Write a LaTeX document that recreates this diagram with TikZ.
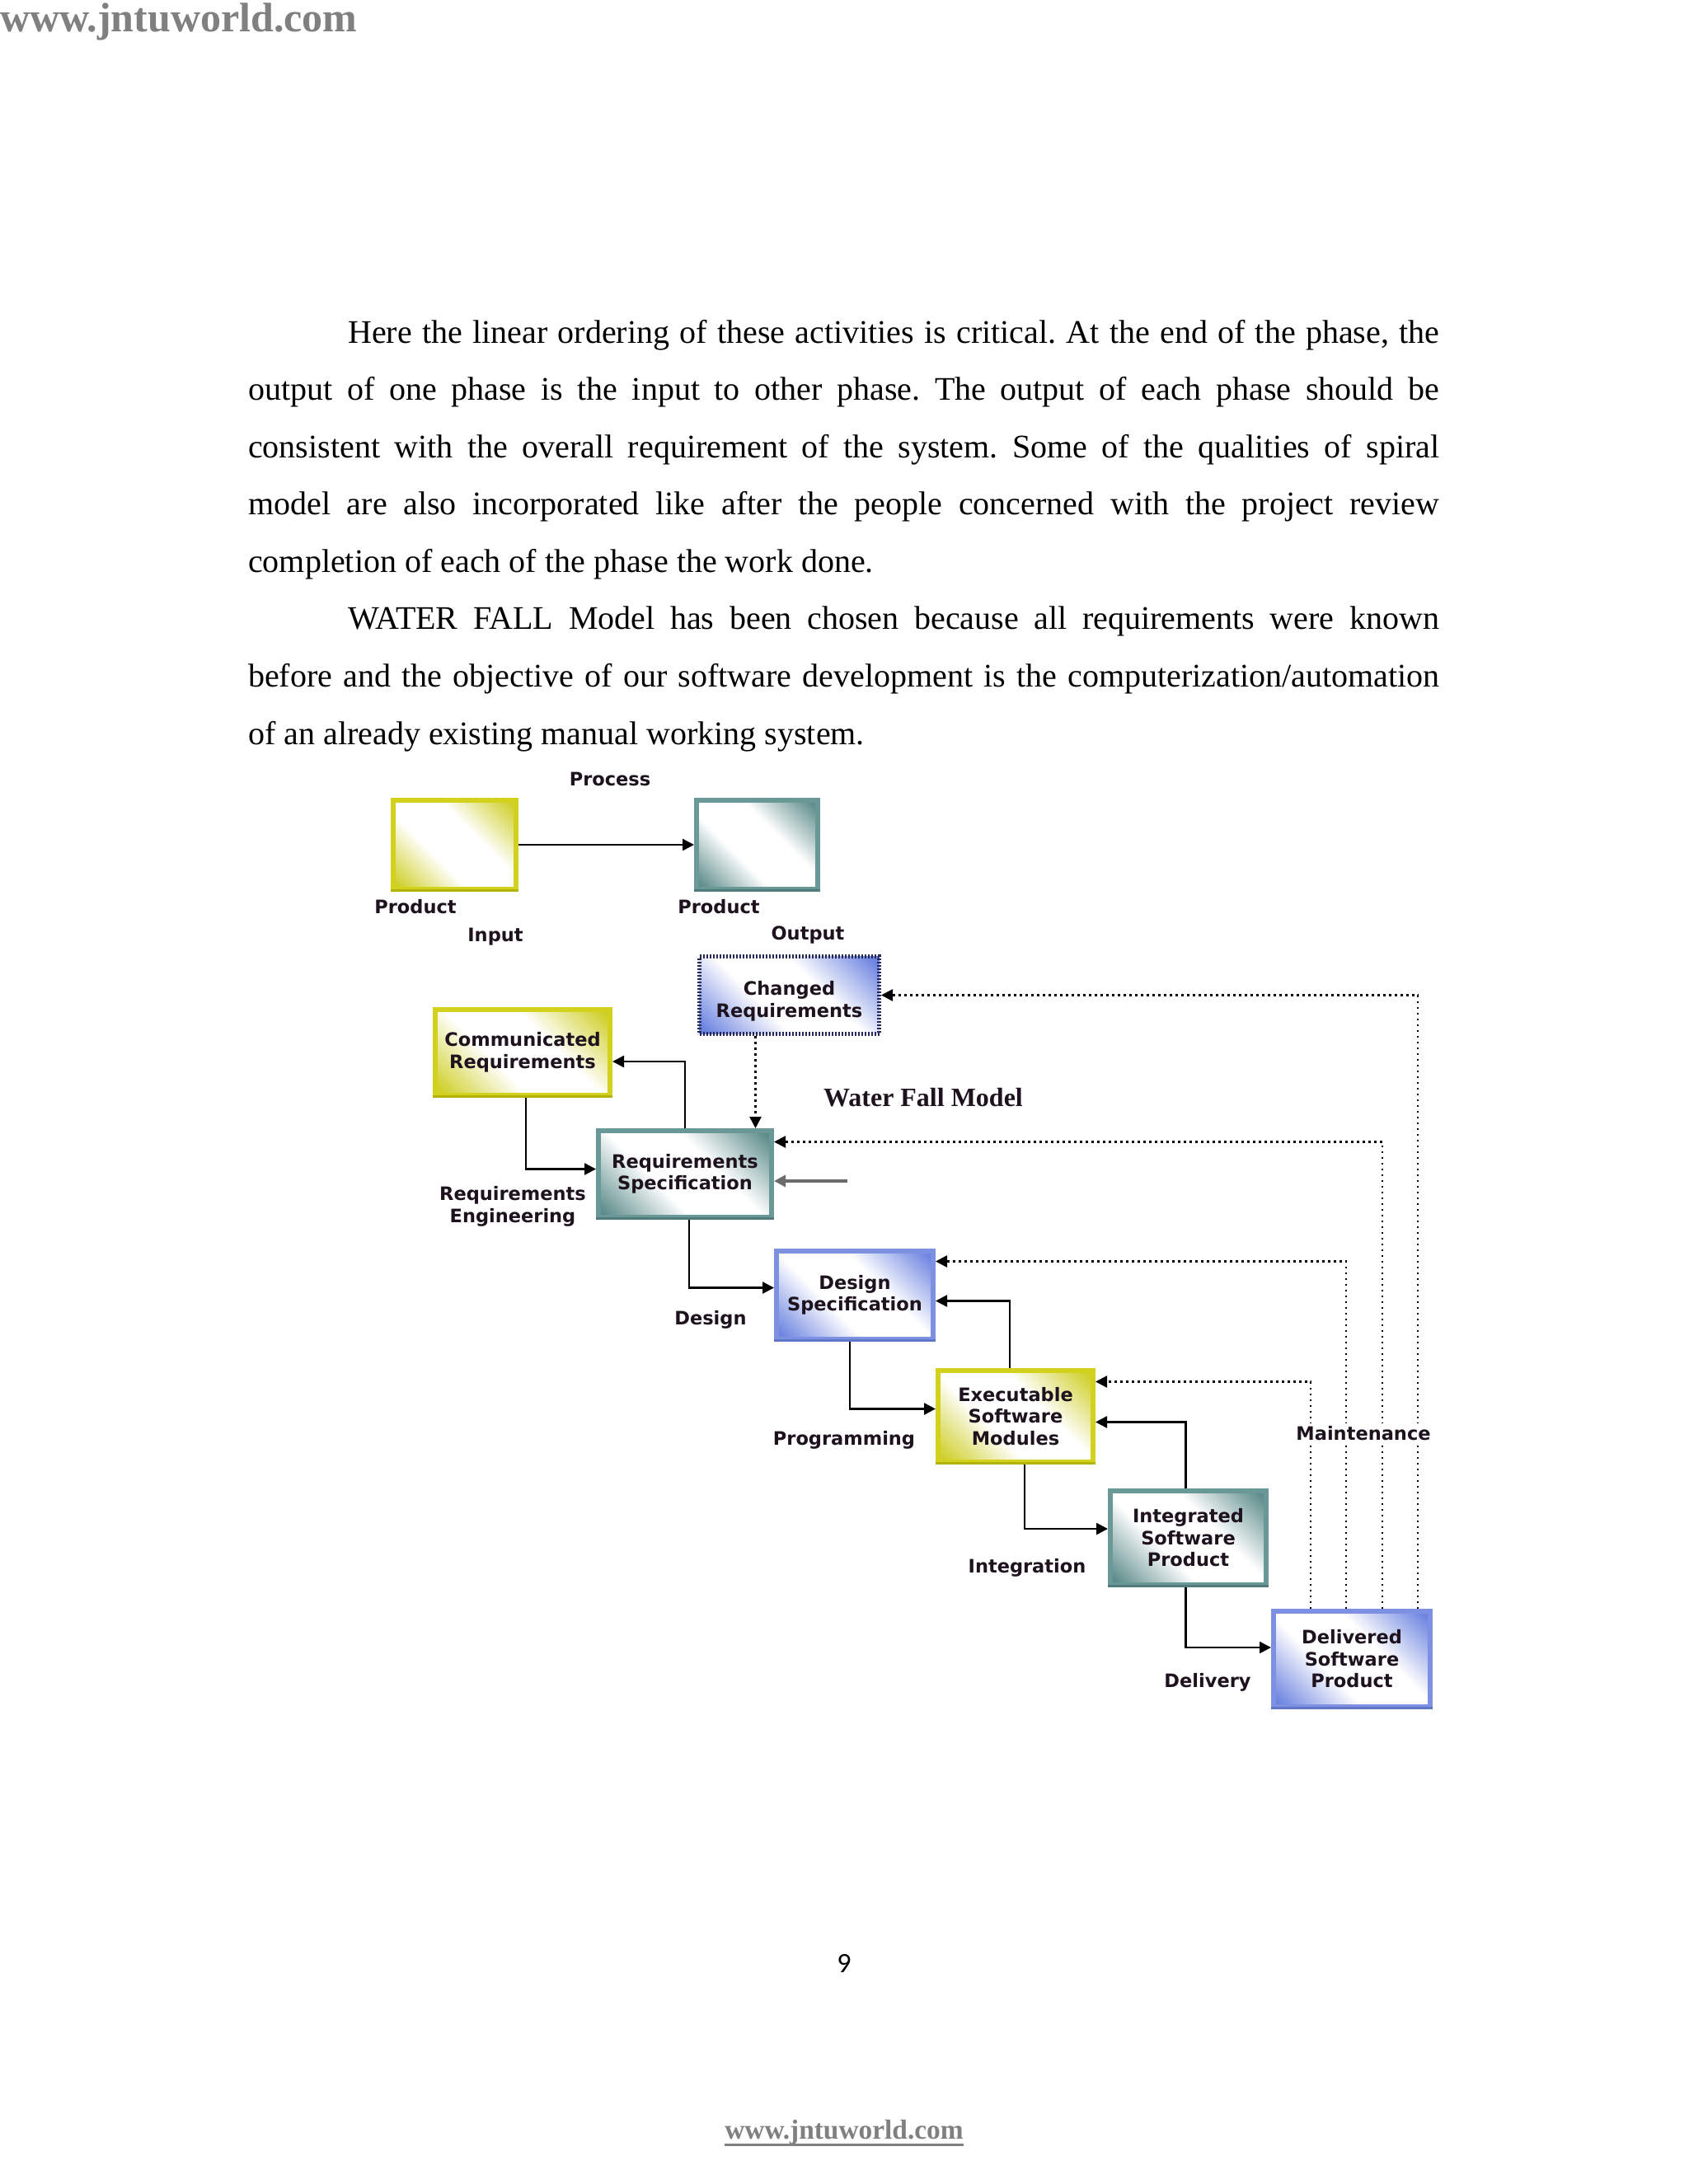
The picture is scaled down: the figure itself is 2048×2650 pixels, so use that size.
\documentclass[tikz,border=0pt]{standalone}
\usepackage{fontspec}
\setmainfont{Liberation Serif}
\newfontfamily\dvfont{DejaVu Sans}
\newfontfamily\clfont{Carlito}
\usetikzlibrary{arrows.meta}
\definecolor{ybord}{HTML}{D2D21E}
\definecolor{ydark}{HTML}{B2B208}
\definecolor{yfill}{HTML}{CFCF2A}
\definecolor{tbord}{HTML}{6A9896}
\definecolor{tdark}{HTML}{4F7C7A}
\definecolor{tfill}{HTML}{5C8C8A}
\definecolor{bbord}{HTML}{7D90E2}
\definecolor{bdark}{HTML}{6276C8}
\definecolor{bfill}{HTML}{6C84E0}
\definecolor{dotb}{HTML}{262A5A}
\definecolor{txt}{HTML}{1E121E}
\definecolor{wmark}{HTML}{808080}
\pgfdeclareverticalshading{yshade}{100bp}{color(0bp)=(yfill); color(17bp)=(yfill); color(40bp)=(white); color(60bp)=(white); color(83bp)=(yfill); color(100bp)=(yfill)}
\pgfdeclareverticalshading{tshade}{100bp}{color(0bp)=(tfill); color(17bp)=(tfill); color(40bp)=(white); color(60bp)=(white); color(83bp)=(tfill); color(100bp)=(tfill)}
\pgfdeclareverticalshading{bshade}{100bp}{color(0bp)=(bfill); color(17bp)=(bfill); color(40bp)=(white); color(60bp)=(white); color(83bp)=(bfill); color(100bp)=(bfill)}
\tikzset{
  box/.style={rectangle, line width=6pt, inner sep=0pt, align=center, text=txt,
    font=\dvfont\bfseries\fontsize{22.5}{26.5}\selectfont},
  ybox/.style={box, draw=ybord, shade, shading=yshade, shading angle=-45},
  tbox/.style={box, draw=tbord, shade, shading=tshade, shading angle=-45},
  bbox/.style={box, draw=bbord, shade, shading=bshade, shading angle=-45},
  cbox/.style={box, draw=dotb, line width=5pt, dash pattern=on 2pt off 2pt, shade, shading=bshade, shading angle=-45},
  lbl/.style={inner sep=0pt, anchor=base, text=txt, align=center,
    font=\dvfont\bfseries\fontsize{22.5}{26.5}\selectfont},
  body/.style={inner sep=0pt, anchor=base west, font=\frenchspacing\fontsize{40}{48}\selectfont},
  arr/.style={draw=black, line width=2.5pt, -{Triangle[length=14pt,width=14pt]}},
  dotarr/.style={draw=black, line width=2.6pt, dash pattern=on 2.5pt off 4.5pt, -{Triangle[length=14pt,width=14pt]}},
  grayarr/.style={draw=black!58, line width=4pt, -{Triangle[length=14pt,width=14pt]}},
  rim/.style={line width=3pt, line cap=butt},
}
\begin{document}
\begin{tikzpicture}[x=1pt,y=-1pt]
\fill[white] (0,0) rectangle (2048,2650);
\useasboundingbox (0,0) rectangle (2048,2650);

% watermark header
\node[inner sep=0pt, anchor=base west, text=wmark, font=\bfseries\fontsize{50}{56}\selectfont] (wtop) at (0,38) {www.jntuworld.com};

% body text
\node[body] (l1) at (422,416) {\makebox[1324pt][s]{Here the linear ordering of these activities is critical. At the end of the phase, the}};
\node[body] (l2) at (301,485.6) {\makebox[1445pt][s]{output of one phase is the input to other phase. The output of each phase should be}};
\node[body] (l3) at (301,555.1) {\makebox[1445pt][s]{consistent with the overall requirement of the system. Some of the qualities of spiral}};
\node[body] (l4) at (301,624.7) {\makebox[1445pt][s]{model are also incorporated like after the people concerned with the project review}};
\node[body] (l5) at (301,694.3) {completion of each of the phase the work done.};
\node[body] (l6) at (422,763.9) {\makebox[1324pt][s]{WATER FALL Model has been chosen because all requirements were known}};
\node[body] (l7) at (301,833.4) {\makebox[1445pt][s]{before and the objective of our software development is the computerization/automation}};
\node[body] (l8) at (301,903) {of an already existing manual working system.};

% top process sketch
\node[ybox, minimum width=149pt, minimum height=108pt] (inP) at (551.5,1025) {};
\node[tbox, minimum width=147pt, minimum height=108pt] (outP) at (918.5,1025) {};
\draw[arr] (inP) -- (outP);
\node[lbl] (process) at (740,953) {Process};
\node[lbl] (prodIn) at (504,1108) {Product};
\node[lbl] (prodOut) at (872,1108) {Product};
\node[lbl] (input) at (601,1142) {Input};
\node[lbl] (output) at (980,1140) {Output};

% waterfall boxes
\node[cbox, minimum width=218pt, minimum height=94pt] (chg) at (957.5,1207.5) {\rule{0pt}{32pt}Changed\\Requirements};
\node[ybox, minimum width=212pt, minimum height=104pt] (comm) at (634,1277) {Communicated\\Requirements};
\node[tbox, minimum width=210pt, minimum height=105pt] (req) at (831,1424.5) {Requirements\\Specification};
\node[bbox, minimum width=190pt, minimum height=107pt] (des) at (1037,1571.5) {Design\\Specification};
\node[ybox, minimum width=188pt, minimum height=111pt] (exe) at (1232,1718.5) {Executable\\Software\\Modules};
\node[tbox, minimum width=189pt, minimum height=114pt] (integ) at (1441.5,1866) {Integrated\\Software\\Product};
\node[bbox, minimum width=190pt, minimum height=116pt] (deliv) at (1640,2013) {Delivered\\Software\\Product};

% darker lower rims of the boxes
\foreach \n/\c in {inP/ydark, outP/tdark, comm/ydark, req/tdark, des/bdark, exe/ydark, integ/tdark, deliv/bdark}
  \draw[rim, draw=\c] ([yshift=1.5pt]\n.south west) -- ([yshift=1.5pt]\n.south east);

\node[inner sep=0pt, anchor=base, text=txt, font=\bfseries\fontsize{32}{36}\selectfont] (title) at (1120,1342) {Water Fall Model};

% phase labels
\node[lbl] (reqeng) at (622,1483) {Requirements\\Engineering};
\node[lbl] (design) at (862,1607) {Design};
\node[lbl] (prog) at (1024,1753) {Programming};
\node[lbl] (integr) at (1246,1908) {Integration};
\node[lbl] (deliver) at (1465,2047) {Delivery};

% solid connectors
\draw[arr] (req.north) |- ([yshift=-11pt]comm.east);
\draw[arr] ([xshift=4pt]comm.south) |- ([yshift=6pt]req.west);
\draw[arr] ([xshift=5pt]req.south) |- ([yshift=9pt]des.west);
\draw[arr] ([xshift=-7pt]exe.north) |- ([yshift=-7pt]des.east);
\draw[arr] ([xshift=-6pt]des.south) |- ([yshift=9pt]exe.west);
\draw[arr] ([xshift=-3pt]integ.north) |- ([yshift=-7pt]exe.east);
\draw[arr] ([xshift=11pt]exe.south) |- ([yshift=11pt]integ.west);
\draw[arr] ([xshift=-3pt]integ.south) |- ([yshift=14pt]deliv.west);

% dotted connectors
\draw[dotarr] ([xshift=-41pt]chg.south) -- ([xshift=-41pt]chg.south |- req.north);
\draw[dotarr] ([xshift=-50pt]deliv.north) |- ([yshift=42pt]exe.east);
\draw[dotarr] ([xshift=-7pt]deliv.north) |- ([yshift=41pt]des.east);
\draw[dotarr] ([xshift=37pt]deliv.north) |- ([yshift=39pt]req.east);
\draw[dotarr] ([xshift=80pt]deliv.north) |- (chg.east);

% grey input arrow
\coordinate (gsrc) at (1028,1433);
\draw[grayarr] (gsrc) -- (gsrc -| req.east);

\node[lbl, fill=white, inner sep=3pt] (maint) at (1654,1747) {Maintenance};

% page number and footer
\node[inner sep=0pt, anchor=base, font=\clfont\fontsize{34}{40}\selectfont] (pgno) at (1024,2393) {9};
\node[inner sep=0pt, anchor=base, text=wmark, font=\bfseries\fontsize{33.4}{38}\selectfont] (foot) at (1024,2595) {www.jntuworld.com};
\draw[draw=wmark, line width=3pt] ([yshift=-7pt]foot.base west) -- ([yshift=-7pt]foot.base east);
\end{tikzpicture}
\end{document}
